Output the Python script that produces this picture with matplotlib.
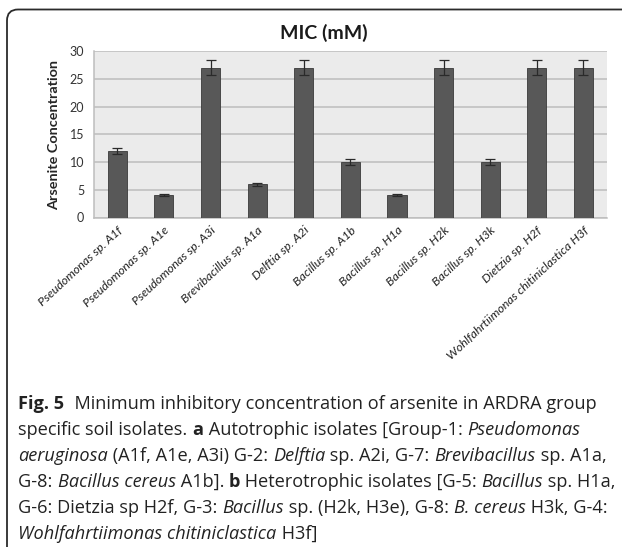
import matplotlib
matplotlib.use("Agg")
import matplotlib.pyplot as plt
from matplotlib.path import Path
from matplotlib.patches import PathPatch
from matplotlib.transforms import IdentityTransform
import numpy as np

# data
isolates = ["Pseudomonas sp. A1f", "Pseudomonas sp. A1e", "Pseudomonas sp. A3i",
            "Brevibacillus sp. A1a", "Delftia sp. A2i", "Bacillus sp. A1b",
            "Bacillus sp. H1a", "Bacillus sp. H2k", "Bacillus sp. H3k",
            "Dietzia sp. H2f", "Wohlfahrtiimonas chitiniclastica H3f"]
mic = [12, 4, 27, 6, 27, 10, 4, 27, 10, 27, 27]
mic_err = [0.6, 0.2, 1.4, 0.3, 1.4, 0.5, 0.2, 1.4, 0.5, 1.4, 1.4]
yticks = [0, 5, 10, 15, 20, 25, 30]

W, H = 622, 547
fig = plt.figure(figsize=(W / 100, H / 100), dpi=100)

# rounded frame (top-left corner only visible)
r = 11
x0, ytop = 7, H - 9.5
verts = [(x0, -5), (x0, ytop - r), (x0, ytop), (x0 + r, ytop), (W + 5, ytop)]
codes = [Path.MOVETO, Path.LINETO, Path.CURVE3, Path.CURVE3, Path.LINETO]
fig.add_artist(PathPatch(Path(verts, codes), transform=IdentityTransform(),
                         fill=False, edgecolor="#2b2b2b", lw=1.3))

ax = fig.add_axes([94 / W, (H - 217.5) / H, 512.7 / W, 166.5 / H])
ax.set_facecolor("#ebebeb")
x = np.arange(len(isolates))
ax.bar(x, mic, width=0.41, color="#585858", edgecolor="#3a3a3a", lw=0.6, zorder=3)
ax.errorbar(x, mic, yerr=mic_err, fmt="none", ecolor="#2a2a2a", elinewidth=0.9,
            capsize=3.5, capthick=0.9, zorder=4)
ax.set_xlim(-0.5, len(isolates) - 0.5)
ax.set_ylim(0, 30)
ax.set_yticks(yticks)
ax.yaxis.grid(True, color="#bdbdbd", lw=1.1, zorder=0)
ax.set_axisbelow(True)
for s in ["top", "right"]:
    ax.spines[s].set_visible(False)
for s in ["left", "bottom"]:
    ax.spines[s].set_color("#bdbdbd")
    ax.spines[s].set_linewidth(1.1)
ax.tick_params(axis="y", length=0, pad=7, labelsize=9, labelcolor="#333333")
ax.tick_params(axis="x", length=0, pad=5)
for lab in ax.get_yticklabels():
    lab.set_family("Lato")
ax.set_xticks(x)
ax.set_xticklabels(isolates, rotation=43, ha="right", rotation_mode="anchor",
                   fontsize=8.9, style="italic", family="Lato", color="#222222")

fig.text(324 / W, 1 - 33 / H, "MIC (mM)", ha="center", va="center",
         fontsize=14, fontweight="bold", family="Lato", color="#1a1a1a")
fig.text(54 / W, 1 - 135 / H, "Arsenite Concentration", rotation=90,
         ha="center", va="center", fontsize=10.4, fontweight="bold",
         family="Lato", color="#262626")

# caption with mixed bold / italic runs
n, b, i = "normal", "bold", "italic"
caption = [
    [("Fig. 5", b), ("  Minimum inhibitory concentration of arsenite in ARDRA group", n)],
    [("specific soil isolates. ", n), ("a", b), (" Autotrophic isolates [Group-1: ", n),
     ("Pseudomonas", i)],
    [("aeruginosa", i), (" (A1f, A1e, A3i) G-2: ", n), ("Delftia", i),
     (" sp. A2i, G-7: ", n), ("Brevibacillus", i), (" sp. A1a,", n)],
    [("G-8: ", n), ("Bacillus cereus", i), (" A1b]. ", n), ("b", b),
     (" Heterotrophic isolates [G-5: ", n), ("Bacillus", i), (" sp. H1a,", n)],
    [("G-6: Dietzia sp H2f, G-3: ", n), ("Bacillus", i), (" sp. (H2k, H3e), G-8: ", n),
     ("B. cereus", i), (" H3k, G-4:", n)],
    [("Wohlfahrtiimonas chitiniclastica", i), (" H3f]", n)],
]

renderer = fig.canvas.get_renderer()


def seg_width(s, kind, size):
    kw = dict(fontsize=size, family="Open Sans")
    if kind == b:
        kw["fontweight"] = "bold"
    if kind == i:
        kw["style"] = "italic"
    t1 = fig.text(0, 0, "x" + s + "x", **kw)
    t2 = fig.text(0, 0, "xx", **kw)
    w = t1.get_window_extent(renderer).width - t2.get_window_extent(renderer).width
    t1.remove()
    t2.remove()
    return w, kw


size = 12
widest = max(sum(seg_width(s, k, size)[0] for s, k in line) for line in caption)
size = size * 594 / widest

for li, line in enumerate(caption):
    xpos = 18.5
    ybase = H - (409 + 26 * li)
    for s, k in line:
        w, kw = seg_width(s, k, size)
        fig.text(xpos / W, ybase / H, s, ha="left", va="baseline",
                 color="#222222", **kw)
        xpos += w

fig.savefig("out.png", dpi=100)
